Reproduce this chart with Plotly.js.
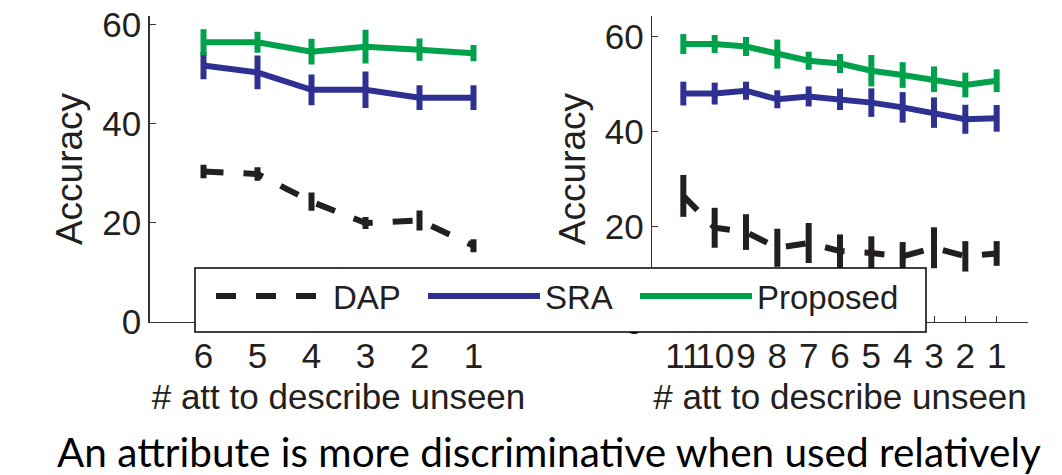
<!DOCTYPE html>
<html>
<head>
<meta charset="utf-8">
<script src="https://cdn.plot.ly/plotly-3.0.1.min.js"></script>
<style>html,body{margin:0;padding:0;background:#fff;}#chart{width:1062px;height:475px;}</style>
</head>
<body>
<div id="chart"></div>
<script>
// ---- data ----
const leftX = [6, 5, 4, 3, 2, 1];
const leftTickText = ['6', '5', '4', '3', '2', '1'];
const leftDAP = [30.4, 29.9, 24.3, 20.0, 20.5, 15.4];
const leftDAPErr = [1.35, 1.35, 1.85, 1.2, 2.0, 1.3];
const leftSRA = [51.8, 50.4, 46.9, 46.9, 45.3, 45.3];
const leftSRAErr = [2.75, 3.4, 3.1, 3.7, 2.5, 2.5];
const leftProp = [56.5, 56.5, 54.6, 55.6, 55.0, 54.3];
const leftPropErr = [2.6, 2.1, 2.6, 3.4, 2.25, 1.65];

const rightX = [11, 10, 9, 8, 7, 6, 5, 4, 3, 2, 1];
const rightTickText = ['11', '10', '9', '8', '7', '6', '5', '4', '3', '2', '1'];
const rightDAP = [26.5, 19.8, 18.9, 15.6, 16.6, 14.9, 14.5, 13.8, 15.6, 13.8, 14.4];
const rightDAPErr = [4.4, 4.2, 3.75, 4.0, 4.2, 3.5, 3.5, 3.0, 4.3, 3.2, 2.6];
const rightSRA = [48.0, 48.0, 48.6, 46.8, 47.4, 46.8, 46.1, 45.1, 44.0, 42.6, 42.8];
const rightSRAErr = [2.5, 2.3, 1.9, 1.9, 2.1, 2.25, 3.0, 3.2, 3.2, 3.05, 2.8];
const rightProp = [58.4, 58.4, 57.9, 56.3, 54.9, 54.3, 52.8, 51.9, 51.0, 49.8, 50.7];
const rightPropErr = [2.1, 1.9, 2.0, 3.05, 1.9, 2.0, 3.3, 2.7, 2.7, 2.6, 2.4];

const yTicks = [0, 20, 40, 60];
const seriesNames = ['DAP', 'SRA', 'Proposed'];
const xTitle = '# att to describe unseen';
const yTitle = 'Accuracy';
const caption = 'An attribute is more discriminative when used relatively';

// ---- styles ----
const COLORS = {DAP: '#231f20', SRA: '#2e3192', Proposed: '#00a14b'};
const ENTRY_W = {DAP: 85, SRA: 85, Proposed: 160};
const LW = 6;
const FONT = '"Liberation Sans", Arial, Helvetica, sans-serif';
const AXC = '#333333';

function trace(x, y, err, name, xa, ya, showlegend) {
  return {
    type: 'scatter', mode: 'lines', x: x, y: y, name: name,
    xaxis: xa, yaxis: ya, showlegend: showlegend, legendgroup: name,
    legendwidth: ENTRY_W[name],
    line: {color: COLORS[name], width: LW, dash: name === 'DAP' ? '20px,20px' : 'solid'},
    error_y: {type: 'data', array: err, visible: true, color: COLORS[name], thickness: LW, width: 0}
  };
}

const data = [
  trace(leftX, leftDAP, leftDAPErr, seriesNames[0], 'x', 'y', true),
  trace(leftX, leftSRA, leftSRAErr, seriesNames[1], 'x', 'y', true),
  trace(leftX, leftProp, leftPropErr, seriesNames[2], 'x', 'y', true),
  trace(rightX, rightDAP, rightDAPErr, seriesNames[0], 'x2', 'y2', false),
  trace(rightX, rightSRA, rightSRAErr, seriesNames[1], 'x2', 'y2', false),
  trace(rightX, rightProp, rightPropErr, seriesNames[2], 'x2', 'y2', false)
];

const W = 1062, H = 475;
const yDom = [1 - 322 / H, 1 - 16 / H];

function xAxis(dom, range, vals, txt, anchor) {
  return {
    domain: dom, range: range, anchor: anchor,
    tickmode: 'array', tickvals: vals, ticktext: txt, tickangle: 0,
    ticks: 'inside', ticklen: 6, tickwidth: 1, tickcolor: AXC,
    showline: true, linecolor: AXC, linewidth: 1.2,
    showgrid: false, zeroline: false, ticklabelstandoff: 3,
    tickfont: {family: FONT, size: 35, color: '#231f20'},
    title: {text: xTitle, font: {family: FONT, size: 35, color: '#231f20'}, standoff: 10}
  };
}
function yAxis(range, anchor) {
  return {
    domain: yDom, range: range, anchor: anchor,
    tickmode: 'array', tickvals: yTicks, ticktext: yTicks.map(String),
    ticks: 'inside', ticklen: 6, tickwidth: 1, tickcolor: AXC,
    showline: true, linecolor: AXC, linewidth: 1.2,
    showgrid: false, zeroline: false,
    tickfont: {family: FONT, size: 35, color: '#231f20'},
    title: {text: yTitle, font: {family: FONT, size: 37, color: '#231f20'}, standoff: 8}
  };
}

const layout = {
  width: W, height: H,
  margin: {l: 0, r: 0, t: 0, b: 0},
  paper_bgcolor: '#ffffff', plot_bgcolor: 'rgba(0,0,0,0)',
  font: {family: FONT, color: '#231f20'},
  xaxis: xAxis([149.5 / W, 527.5 / W], [7, 0], leftX, leftTickText, 'y'),
  yaxis: yAxis([0, 61.8], 'x'),
  xaxis2: xAxis([652 / W, 1028 / W], [12, 0], rightX, rightTickText, 'y2'),
  yaxis2: yAxis([0, 64.3], 'x2'),
  showlegend: true,
  legend: {
    orientation: 'h', x: 211 / W, xanchor: 'left', y: 1 - 268 / H, yanchor: 'top',
    bgcolor: 'rgba(0,0,0,0)', borderwidth: 0,
    font: {family: FONT, size: 33, color: '#231f20'},
    itemwidth: 112, entrywidthmode: 'pixels', traceorder: 'normal'
  },
  shapes: [{
    type: 'rect', xref: 'paper', yref: 'paper', layer: 'above',
    x0: 195 / W, x1: 926 / W, y0: 1 - 332 / H, y1: 1 - 268 / H,
    line: {color: '#000000', width: 1.5}, fillcolor: '#ffffff'
  }],
  annotations: [{
    text: caption, xref: 'paper', yref: 'paper', x: 549 / W, y: 1 - 451 / H,
    xanchor: 'center', yanchor: 'middle', showarrow: false, borderpad: 0,
    font: {family: 'Lato, "Open Sans", sans-serif', size: 40.5, color: '#000000'}
  }]
};

Plotly.newPlot('chart', data, layout, {staticPlot: true, displayModeBar: false});
</script>
</body>
</html>
